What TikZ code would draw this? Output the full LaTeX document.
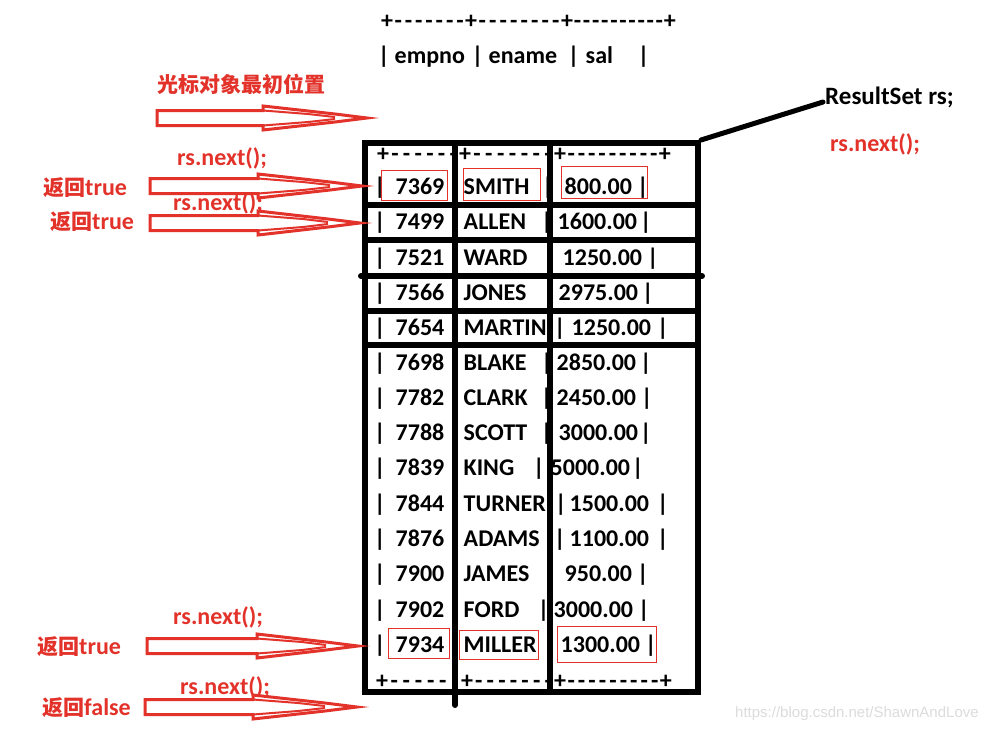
\documentclass[tikz,border=0pt]{standalone}
\usepackage{fontspec}
\setmainfont{Carlito}
\newfontfamily\cjk{Noto Sans CJK SC}
\newfontfamily\wmfont{Liberation Sans}
\usetikzlibrary{calc}
\definecolor{mred}{RGB}{226,50,42}
\definecolor{wmgray}{RGB}{220,220,220}
\newcommand\at[2]{\makebox[0pt][l]{\hspace*{#1pt}#2}}
\newcommand\vb[1]{\makebox[0pt][l]{\hspace*{#1pt}\makebox[0pt][c]{|}}}
\newcommand\dashrun[2]{\hbox to #2pt{\cleaders\hbox to \dimexpr #2pt/#1\relax{\hss-\hss}\hfill}}
\newcommand\latinpart[1]{{\fontspec{Carlito}\fontsize{24}{28}\selectfont\bfseries #1}}
\newcommand\hollowarrow[4]{%
  \draw[harrow] (#1,#4-7.5) -- (#2,#4-7.5) -- (#2,#4-12) -- (#3-32,#4-4) -- (#3,#4)
     -- (#3-32,#4+4) -- (#2,#4+12) -- (#2,#4+7.5) -- (#1,#4+7.5) -- cycle;
  \draw[mred, line width=2pt] (#2,#4-7.5) -- (#2+45,#4-4) -- (#3-32,#4-1);
  \draw[mred, line width=2pt] (#2,#4+7.5) -- (#2+45,#4+4) -- (#3-32,#4+1);
}
\begin{document}
\begin{tikzpicture}[x=1pt,y=-1pt,
  txt/.style={anchor=base west, inner sep=0pt, font=\fontsize{24}{28}\selectfont\bfseries},
  lbl/.style={anchor=west, inner sep=0pt, text=mred, font=\fontsize{24}{28}\selectfont\bfseries},
  cjklbl/.style={anchor=west, inner sep=0pt, text=mred, font=\fontsize{21}{25}\selectfont\cjk\bfseries},
  tline/.style={line width=6pt, line cap=round},
  rbox/.style={draw=mred, line width=1pt},
  harrow/.style={draw=mred, line width=3pt, fill=white, line join=miter}]
\path[use as bounding box, fill=white] (0,0) rectangle (1003,732);

% header
\node[txt] (hdash) at (381,28) {+\dashrun{7}{72}+\dashrun{8}{84}+\dashrun{10}{91}+};
\node[txt] (hcols) at (380,63) {\vb{3}\at{14}{empno}\vb{97}\at{108}{ename}\vb{193}\at{205}{sal}\vb{263}};

% table dashes
\node[txt] (tdash) at (377,161) {+\dashrun{6}{70}+\dashrun{7}{83}+\dashrun{9}{93}+};
\node[txt] (bdash) at (376,688) {+\dashrun{6}{73}+\dashrun{7}{81}+\dashrun{9}{94}+};

% rows
\foreach \i/\y/\num/\nm/\sal in {
1/186/7369/{\at{8}{SMITH}\vb{92}}/{\at{14}{800.00}\vb{92}},
2/221/7499/{\at{8}{ALLEN}\vb{91}}/{\at{7}{1600.00}\vb{95}},
3/257/7521/{\at{8}{WARD}}/{\at{12}{1250.00}\vb{102}},
4/292/7566/{\at{8}{JONES}\vb{94}}/{\at{8}{2975.00}\vb{97}},
5/327/7654/{\at{8}{MARTIN}}/{\vb{9}\at{21}{1250.00}\vb{112}},
6/362/7698/{\at{8}{BLAKE}\vb{91}}/{\at{6}{2850.00}\vb{95}},
7/397/7782/{\at{8}{CLARK}\vb{91}}/{\at{6}{2450.00}\vb{96}},
8/432/7788/{\at{8}{SCOTT}\vb{91}}/{\at{8}{3000.00}\vb{95}},
9/467/7839/{\at{8}{KING}\vb{83}}/{\at{0}{5000.00}\vb{87}},
10/503/7844/{\at{8}{TURNER}}/{\vb{10}\at{19}{1500.00}\vb{112}},
11/538/7876/{\at{8}{ADAMS}}/{\vb{9}\at{19}{1100.00}\vb{112}},
12/573/7900/{\at{8}{JAMES}}/{\at{14}{950.00}\vb{92}},
13/609/7902/{\at{8}{FORD}\vb{88}}/{\at{3}{3000.00}\vb{93}},
14/644/7934/{\at{8}{MILLER}}/{\at{10}{1300.00}\vb{100}}}
{
  \node[txt] (id\i) at (365,\y+8) {\vb{14}\at{30}{\num}};
  \node[txt] (nm\i) at (455,\y+8) {\nm};
  \node[txt] (sl\i) at (550,\y+8) {\sal};
}

% table frame and lines
\node[draw, line width=6pt, minimum width=333pt, minimum height=549pt, inner sep=0pt] (tbl) at (531.5,417.5) {};
\draw[tline] (455,143) -- (455,705);
\draw[tline] (550,143) -- (550,692);
\draw[tline] (365,205) -- (698,205);
\draw[tline] (365,240) -- (698,240);
\draw[tline] (361,276) -- (702,276);
\draw[tline] (365,311) -- (698,311);
\draw[tline] (365,345) -- (698,345);

% red highlight boxes
\draw[rbox] (381,170) rectangle (447,200);
\draw[rbox] (463,168) rectangle (540,200);
\draw[rbox] (561,166) rectangle (647,198);
\draw[rbox] (388,628) rectangle (449,658);
\draw[rbox] (459,630) rectangle (538,659);
\draw[rbox] (557,626) rectangle (656,662);

% ResultSet label
\node[txt, anchor=west, font=\fontsize{25}{29}\selectfont\bfseries] (rs) at (825,97) {ResultSet rs;};
\draw[line width=5pt, line cap=round] (tbl.north east) -- ($(rs.west)+(-2,5)$);
\node[lbl] (rsnext) at (830,144) {rs.next();};

% left side labels
\node[cjklbl] (init) at (157,84) {光标对象最初位置};
\node[lbl] (n1) at (177,158) {rs.next();};
\node[cjklbl] (r1) at (43,188) {返回\latinpart{true}};
\node[lbl] (n2) at (173,203) {rs.next();};
\node[cjklbl] (r2) at (50,222) {返回\latinpart{true}};
\node[lbl] (n3) at (173,617) {rs.next();};
\node[cjklbl] (r3) at (37,647) {返回\latinpart{true}};
\node[lbl] (n4) at (180,687) {rs.next();};
\node[cjklbl] (r4) at (42,708) {返回\latinpart{false}};

% hollow arrows
\hollowarrow{157}{263}{367}{118}
\hollowarrow{150}{258}{362}{186}
\hollowarrow{150}{258}{360}{223}
\hollowarrow{147}{257}{358}{646}
\hollowarrow{145}{253}{357}{707}

% watermark
\node[anchor=west, inner sep=0pt, text=wmgray, font=\fontsize{15}{18}\selectfont\wmfont] (wm) at (735,714) {https://blog.csdn.net/ShawnAndLove};
\end{tikzpicture}
\end{document}
